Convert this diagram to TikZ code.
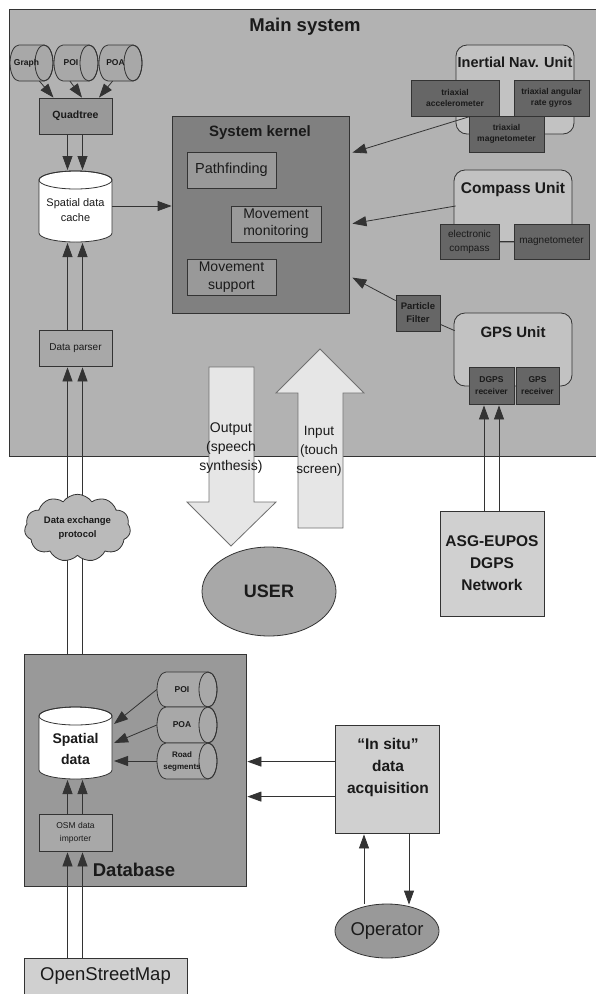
\documentclass[tikz,border=0pt]{standalone}
\usepackage{fontspec}
\setmainfont{Liberation Sans}
\usetikzlibrary{arrows.meta,shapes.symbols,shapes.geometric,calc}
\definecolor{cMain}{HTML}{B2B2B2}
\definecolor{cUnit}{HTML}{C2C2C2}
\definecolor{cKern}{HTML}{808080}
\definecolor{cMid}{HTML}{999999}
\definecolor{cDark}{HTML}{666666}
\definecolor{cLight}{HTML}{D0D0D0}
\definecolor{cArrow}{HTML}{E6E6E6}
\definecolor{cInk}{HTML}{1A1A1A}
\definecolor{cLine}{HTML}{333333}
\tikzset{
  box/.style={draw=cLine,line width=0.8pt,inner sep=0pt,align=center,text=cInk},
  lbl/.style={inner sep=0pt,align=center,text=cInk},
  conn/.style={draw=cLine,line width=0.8pt},
  arr/.style={conn,-{Triangle[length=14pt,width=10pt]}},
}
% rectangle node by corners
\newcommand{\rbox}[7][]{%
  \pgfmathsetmacro\rw{#5-#3}\pgfmathsetmacro\rh{#6-#4}%
  \pgfmathsetmacro\cx{(#3+#5)/2}\pgfmathsetmacro\cy{(#4+#6)/2}%
  \node[box,minimum width=\rw pt,minimum height=\rh pt,#1] (#2) at (\cx,\cy) {#7};}
% horizontal cylinder; end ellipse at the right
\newcommand{\hcyl}[7][]{%
  \pgfmathsetmacro\rw{#5-#3}\pgfmathsetmacro\rh{#6-#4}%
  \pgfmathsetmacro\cx{(#3+#5)/2}\pgfmathsetmacro\cy{(#4+#6)/2}%
  \pgfmathsetmacro\ry{(#6-#4)/2}\pgfmathsetmacro\xa{#3+9}\pgfmathsetmacro\xb{#5-9}%
  \draw[conn,fill=#1] (\xa,#4) -- (\xb,#4) arc[start angle=-90,end angle=90,x radius=9,y radius=\ry]
     -- (\xa,#6) arc[start angle=90,end angle=270,x radius=9,y radius=\ry] -- cycle;
  \draw[conn] (\xb,\cy) ellipse[x radius=9,y radius=\ry];
  \node[lbl,minimum width=\rw pt,minimum height=\rh pt] (#2) at (\cx-5,\cy) {#7};}
% vertical cylinder
\newcommand{\vcyl}[7][]{%
  \pgfmathsetmacro\rw{#5-#3}\pgfmathsetmacro\rh{#6-#4}%
  \pgfmathsetmacro\cx{(#3+#5)/2}\pgfmathsetmacro\cy{(#4+#6)/2}%
  \pgfmathsetmacro\rx{(#5-#3)/2}\pgfmathsetmacro\ya{#4+9}\pgfmathsetmacro\yb{#6-9}%
  \draw[conn,fill=white] (#3,\ya) -- (#3,\yb) arc[start angle=180,end angle=360,x radius=\rx,y radius=-9]
     -- (#5,\ya) arc[start angle=0,end angle=180,x radius=\rx,y radius=-9] -- cycle;
  \draw[conn] (\cx,\ya) ellipse[x radius=\rx,y radius=9];
  \node[box,draw=none,minimum width=\rw pt,minimum height=\rh pt,#1] (#2) at (\cx,\cy) {#7};}
\begin{document}
\begin{tikzpicture}[x=1pt,y=-1pt]
\useasboundingbox (0,0) rectangle (596,994);
% Main system
\rbox[fill=cMain]{main}{9}{9}{604}{456}{}
\node[lbl,font=\bfseries\fontsize{18.5}{20}\selectfont] (mainT) at (305,27) {Main system};
% Kernel
\rbox[fill=cKern]{kern}{172}{116}{349}{313}{}
\node[lbl,font=\bfseries\fontsize{15}{17}\selectfont] (kernT) at (260,133) {System kernel};
\rbox[fill=cMid,font=\fontsize{14.5}{17}\selectfont]{path}{187}{152}{276}{188}{Pathfinding}
\rbox[fill=cMid,font=\fontsize{14}{17}\selectfont]{monit}{231}{206}{321}{242}{Movement\\monitoring}
\rbox[fill=cMid,font=\fontsize{14}{18}\selectfont]{supp}{187}{259}{276}{295}{Movement\\support}
% Units
\node[draw=cLine,line width=0.8pt,fill=cUnit,rounded corners=11pt,minimum width=118pt,minimum height=89pt,inner sep=0pt] (inu) at (515,89.5) {};
\node[lbl,font=\bfseries\fontsize{14.5}{17}\selectfont,anchor=center] (inuT) at (515,62) {Inertial Nav. Unit};
\rbox[fill=cDark,font=\bfseries\fontsize{8.5}{11.5}\selectfont]{acc}{411}{80}{499}{116}{triaxial\\accelerometer}
\rbox[fill=cDark,font=\bfseries\fontsize{8.5}{11.5}\selectfont]{gyr}{514}{80}{589}{116}{triaxial angular\\rate gyros}
\rbox[fill=cDark,font=\bfseries\fontsize{8.5}{11.5}\selectfont]{mag}{469}{116}{544}{152}{triaxial\\magnetometer}
\node[draw=cLine,line width=0.8pt,fill=cUnit,rounded corners=11pt,minimum width=118pt,minimum height=72pt,inner sep=0pt] (comp) at (513,206) {};
\node[lbl,font=\bfseries\fontsize{15.5}{17}\selectfont] (compT) at (513,189) {Compass Unit};
\rbox[fill=cDark,font=\fontsize{10}{14}\selectfont]{ecomp}{440}{224}{499}{259}{electronic\\compass}
\rbox[fill=cDark,font=\fontsize{10}{14}\selectfont]{magn}{514}{224}{589}{259}{magnetometer}
\node[draw=cLine,line width=0.8pt,fill=cUnit,rounded corners=11pt,minimum width=118pt,minimum height=73pt,inner sep=0pt] (gps) at (513,349.5) {};
\node[lbl,font=\bfseries\fontsize{15}{17}\selectfont] (gpsT) at (513,332) {GPS Unit};
\rbox[fill=cDark,font=\bfseries\fontsize{8.5}{12.5}\selectfont]{dgps}{469}{367}{514}{404}{DGPS\\receiver}
\rbox[fill=cDark,font=\bfseries\fontsize{8.5}{12.5}\selectfont]{rgps}{516}{367}{559}{404}{GPS\\receiver}
\rbox[fill=cDark,font=\bfseries\fontsize{9.5}{13}\selectfont]{pf}{396}{295}{440}{331}{Particle\\Filter}
% Left column
\hcyl[cMid!85!white]{g}{10}{45}{53}{81}{\bfseries\fontsize{8.5}{10}\selectfont Graph}
\hcyl[cMid!85!white]{poiA}{54}{45}{98}{81}{\bfseries\fontsize{8.5}{10}\selectfont POI}
\hcyl[cMid!85!white]{poaA}{99}{45}{142}{81}{\bfseries\fontsize{8.5}{10}\selectfont POA}
\rbox[fill=cMid,font=\bfseries\fontsize{10.5}{12}\selectfont]{quad}{39}{98}{112}{134}{Quadtree}
\vcyl[font=\fontsize{11}{15}\selectfont,text depth=0pt,yshift=-4pt]{cache}{39}{171}{112}{242}{Spatial data\\cache}
\rbox[fill=cMid!85!white,font=\fontsize{10}{12}\selectfont]{parser}{39}{330}{112}{366}{Data parser}
% Database
\rbox[fill=cMid]{db}{24}{654}{246}{886}{}
\vcyl[font=\bfseries\fontsize{14}{21}\selectfont,yshift=-6pt]{sdata}{39}{707}{112}{779}{Spatial\\data}
\hcyl[cMid!85!white]{poiB}{157}{672}{217}{707}{\bfseries\fontsize{8.5}{10}\selectfont POI}
\hcyl[cMid!85!white]{poaB}{157}{707}{217}{743}{\bfseries\fontsize{8.5}{10}\selectfont POA}
\hcyl[cMid!85!white]{road}{157}{743}{217}{779}{\begin{tabular}{@{}c@{}}\bfseries\fontsize{8}{12}\selectfont Road\\\bfseries\fontsize{8}{12}\selectfont segments\end{tabular}}
\rbox[fill=cMid!85!white,font=\fontsize{8.5}{13}\selectfont]{osm}{39}{814}{112}{851}{OSM data\\importer}
\node[lbl,font=\bfseries\fontsize{18.5}{20}\selectfont] (dbT) at (134,870) {Database};
\rbox[fill=cLight,font=\fontsize{18.5}{20}\selectfont]{map}{24}{958}{187}{994}{OpenStreetMap}
% Right-hand boxes
\rbox[fill=cLight,font=\bfseries\fontsize{15.5}{22}\selectfont]{asg}{440}{511}{544}{616}{ASG-EUPOS\\DGPS\\Network}
\rbox[fill=cLight]{situ}{335}{725}{439}{833}{}
\node[lbl,font=\bfseries\fontsize{15.5}{22}\selectfont] (situT) at (388,767) {“In situ”\\data\\acquisition};
\node[draw=cLine,line width=0.8pt,fill=cMid,ellipse,minimum width=104pt,minimum height=54pt,inner sep=0pt,text=cInk,font=\fontsize{18.5}{20}\selectfont] (oper) at (387,931) {Operator};
\node[draw=cLine,line width=0.8pt,fill=cMid!85!white,ellipse,minimum width=134pt,minimum height=89pt,inner sep=0pt,text=cInk,font=\bfseries\fontsize{18}{20}\selectfont] (user) at (269,591.5) {USER};
% Connectors
\draw[arr] ($(g.south)+(13,0)$) -- ($(quad.north)+(-22,0)$);
\draw[arr] ($(poiA.south)+(-1,0)$) -- ($(quad.north)+(6.5,0)$);
\draw[arr] ($(poaA.south)+(-3,0)$) -- ($(quad.north)+(23.5,0)$);
\draw[arr] ([xshift=-8pt]quad.south) -- ([xshift=-8pt]75.5,170);
\draw[arr] ([xshift=7pt]quad.south) -- ([xshift=7pt]75.5,170);
\draw[arr] (112,206) -- (kern.west |- 112,206);
\draw[arr] ([xshift=-8pt]parser.north) -- ([xshift=-8pt]75.5,243);
\draw[arr] ([xshift=7pt]parser.north) -- ([xshift=7pt]75.5,243);
\draw[arr] ([xshift=-8pt]parser.center |- db.north) -- ([xshift=-8pt,yshift=-1pt]parser.south);
\draw[arr] ([xshift=7pt]parser.center |- db.north) -- ([xshift=7pt,yshift=-1pt]parser.south);
\draw[arr] ($(mag.north west)+(1,1)$) -- ($(kern.north east)+(3,37)$);
\draw[arr] ($(comp.west)+(2,0)$) -- ($(kern.north east)+(3,108)$);
\draw[arr] ($(pf.north west)+(0,6)$) -- ($(kern.north east)+(3,162)$);
\draw[conn] ($(pf.south east)+(0,-7)$) -- ($(gps.north west)+(1,18)$);
\draw[conn] (ecomp.east) -- (magn.west);
\draw[arr] ([xshift=-7.5pt]dgps.center |- asg.north) -- ([xshift=-7.5pt,yshift=-1pt]dgps.south);
\draw[arr] ([xshift=7.5pt]dgps.center |- asg.north) -- ([xshift=7.5pt,yshift=-1pt]dgps.south);
\draw[arr] ($(poiB.west)+(5,0)$) -- (114,724);
\draw[arr] ($(poaB.west)+(5,0)$) -- (114,743);
\draw[arr] ($(road.west)+(5,0)$) -- (114,761);
\draw[arr] ([xshift=-8pt]osm.north) -- ([xshift=-8pt]75.5,780);
\draw[arr] ([xshift=7pt]osm.north) -- ([xshift=7pt]75.5,780);
\draw[arr] ($(osm.south)+(-8,107)$) -- ([xshift=-8pt,yshift=-1pt]osm.south);
\draw[arr] ($(osm.south)+(7,107)$) -- ([xshift=7pt,yshift=-1pt]osm.south);
\draw[arr] ($(situ.north west)+(0,37)$) -- ($(db.north east)+(1,108)$);
\draw[arr] ($(situ.north west)+(0,72)$) -- ($(db.north east)+(1,143)$);
\draw[arr] ($(oper.north)+(-23,0)$) -- ($(situ.south)+(-23,1)$);
\draw[arr] ($(situ.south)+(22,0)$) -- ($(oper.north)+(22,1)$);
% Cloud
\node[draw=cLine,line width=0.8pt,fill=cMain!90!white,cloud,cloud puffs=11,cloud puff arc=110,aspect=1.7,minimum width=106pt,minimum height=66pt,inner sep=0pt,align=center,text=cInk,font=\bfseries\fontsize{9.5}{14}\selectfont] (cloudN) at (77.5,528) {Data exchange\\protocol};
% Large arrows
\draw[draw=cLine!70,line width=0.8pt,fill=cArrow] (209,367) -- (254,367) -- (254,502) -- (276,502) -- (231,546) -- (187,502) -- (209,502) -- cycle;
\draw[draw=cLine!70,line width=0.8pt,fill=cArrow] (298,528) -- (343,528) -- (343,393) -- (364,393) -- (320,349) -- (276,393) -- (298,393) -- cycle;
\node[lbl,font=\fontsize{14}{19}\selectfont] (outT) at (231,448) {Output\\(speech\\synthesis)};
\node[lbl,font=\fontsize{13.5}{19}\selectfont] (inT) at (319,451) {Input\\(touch\\screen)};
\end{tikzpicture}
\end{document}
